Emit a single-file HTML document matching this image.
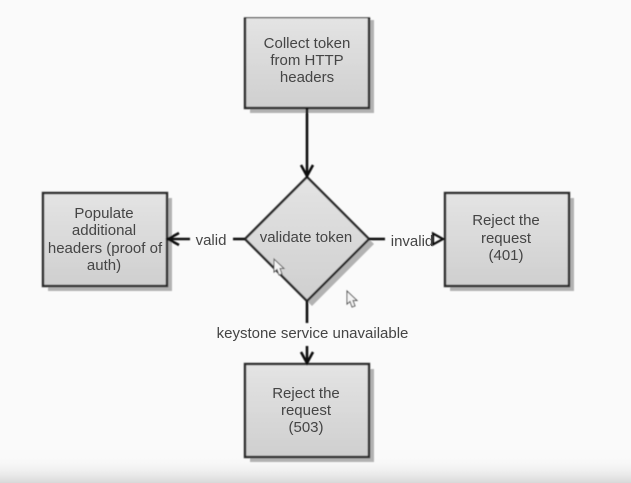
<!DOCTYPE html>
<html>
<head>
<meta charset="utf-8">
<style>
html,body{margin:0;padding:0;background:#fafafa;}
svg{display:block;}
text{font-family:"Liberation Sans",sans-serif;font-size:15px;fill:#444;text-anchor:middle;}
</style>
</head>
<body>
<svg width="631" height="483" viewBox="0 0 631 483" xmlns="http://www.w3.org/2000/svg">
<defs>
<linearGradient id="g" x1="0" y1="0" x2="0" y2="1">
<stop offset="0" stop-color="#e4e4e4"/>
<stop offset="1" stop-color="#cfcfcf"/>
</linearGradient>
<linearGradient id="bot" x1="0" y1="0" x2="0" y2="1">
<stop offset="0" stop-color="#fafafa" stop-opacity="0"/>
<stop offset="1" stop-color="#d8d8d8"/>
</linearGradient>
<filter id="b" x="-10%" y="-10%" width="120%" height="120%"><feGaussianBlur stdDeviation="0.5"/></filter>
<filter id="t" x="-5%" y="-5%" width="110%" height="110%"><feGaussianBlur stdDeviation="0.3"/></filter>
</defs>
<rect width="631" height="483" fill="#fafafa"/>
<rect x="0" y="455" width="631" height="28" fill="url(#bot)"/>
<g filter="url(#b)">
<!-- shadows -->
<g fill="#b2b2b2">
<rect x="250" y="20" width="124" height="93"/>
<rect x="48" y="198" width="124" height="93"/>
<rect x="450" y="198" width="124" height="93"/>
<rect x="250" y="369" width="124" height="93"/>
<polygon points="312,182 374,244 312,306 250,244"/>
</g>
<!-- boxes -->
<g fill="url(#g)" stroke="#2a2a2a" stroke-width="2.4">
<rect x="245" y="17" width="124" height="91"/>
<rect x="43" y="193" width="124" height="93"/>
<rect x="445" y="193" width="124" height="93"/>
<rect x="245" y="364" width="124" height="93"/>
<polygon points="307,177 369,239 307,301 245,239"/>
</g>
<rect x="243" y="10" width="128" height="7" fill="#fafafa"/>
<!-- connectors -->
<g fill="none" stroke="#111" stroke-width="2.6">
<path d="M307 108V175"/>
<path d="M301 165L307 176L313 165"/>
<path d="M233 239H245"/>
<path d="M169 239H190"/>
<path d="M179 233L168 239L179 245"/>
<path d="M369 239H385"/>
<path d="M307 301V323"/>
<path d="M307 346V363"/>
<path d="M301 352L307 363L313 352"/>
<path d="M433 233.500L443 239L433 244.500Z" stroke-width="2.2"/>
</g>
<!-- cursors -->
<g fill="#f4f4f4" stroke="#555" stroke-width="1">
<path d="M274 259V272L277 269.500L279 275L282 274L280 268.500L284 268.500Z"/>
<path d="M347 291V304L350 301.500L352 307L355 306L353 300.500L357 300.500Z"/>
</g>
</g>
<g filter="url(#t)">
<text x="307" y="48">Collect token</text>
<text x="307" y="65">from HTTP</text>
<text x="307" y="82">headers</text>
<text x="104" y="218">Populate</text>
<text x="104" y="235">additional</text>
<text x="105" y="253">headers (proof of</text>
<text x="104" y="270">auth)</text>
<text x="306" y="242">validate token</text>
<text x="506" y="225">Reject the</text>
<text x="506" y="243">request</text>
<text x="506" y="260">(401)</text>
<text x="306" y="398">Reject the</text>
<text x="306" y="415">request</text>
<text x="306" y="432">(503)</text>
<text x="211" y="245">valid</text>
<text x="412" y="246">invalid</text>
<text x="312.500" y="338">keystone service unavailable</text>
</g>
</svg>
</body>
</html>
